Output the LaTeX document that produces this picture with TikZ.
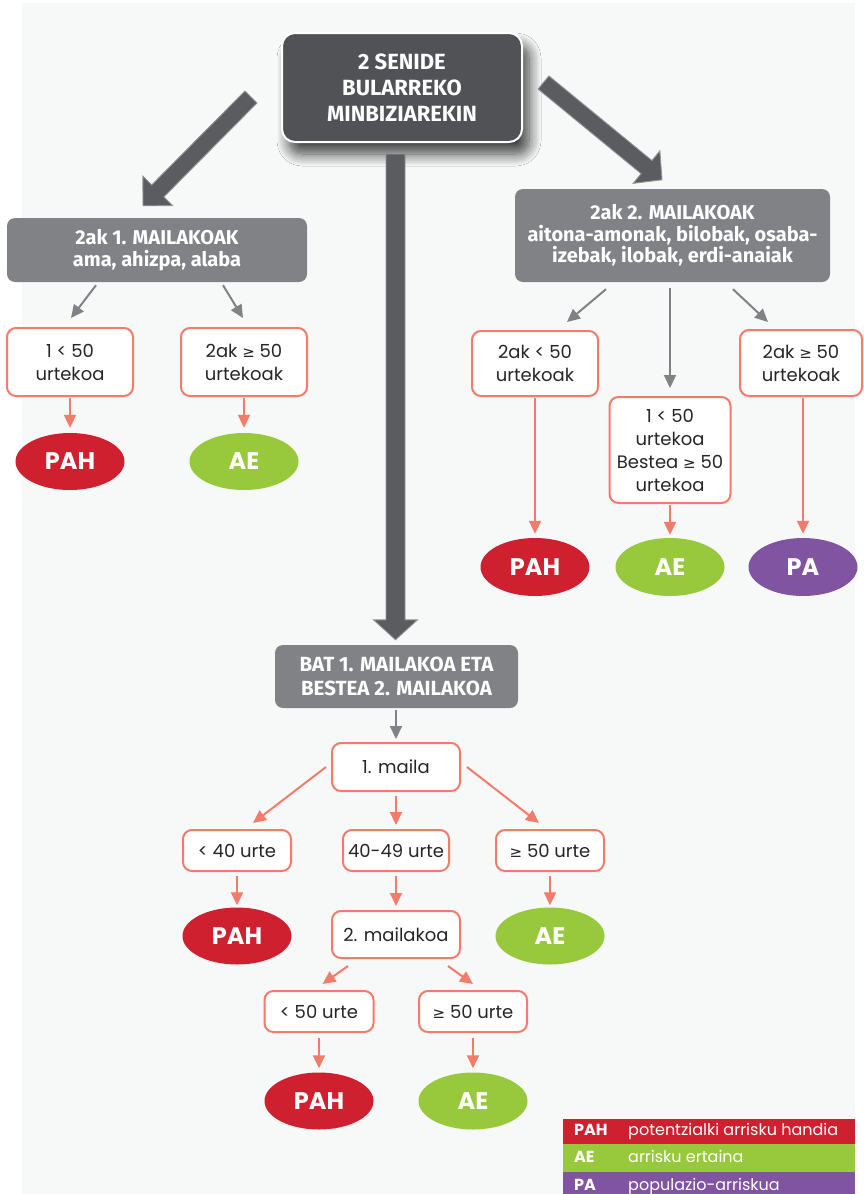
\documentclass[tikz,border=0pt]{standalone}
\usepackage{fontspec}
\setmainfont{Poppins}
\newfontfamily\hdr{Fira Sans}
\newfontfamily\symf{DejaVu Sans}
\usetikzlibrary{shapes.geometric,arrows.meta,calc,shadows.blur}
\definecolor{bgc}{HTML}{F7F8F8}
\definecolor{darkg}{HTML}{505256}
\definecolor{midg}{HTML}{808285}
\definecolor{arrg}{HTML}{5A5C60}
\definecolor{salmon}{HTML}{F37B69}
\definecolor{rred}{HTML}{CF202F}
\definecolor{rgreen}{HTML}{98C93C}
\definecolor{rpurple}{HTML}{8154A1}
\newcommand\geqs{{\symf\fontsize{15}{23}\selectfont ≥}}
\newcommand\bigarrow[5]{%
  \path (#1); \pgfgetlastxy{\bax}{\bay}%
  \path (#2); \pgfgetlastxy{\bbx}{\bby}%
  \pgfmathsetmacro\bang{atan2(\bby-\bay,\bbx-\bax)}%
  \pgfmathsetmacro\blen{veclen(\bbx-\bax,\bby-\bay)}%
  \pgfmathsetmacro\bneck{\blen-#5}%
  \filldraw[fill=arrg, draw=arrg!65!white, line width=0.9pt, shift={(#1)}, rotate=\bang]
    (0pt,#3pt) -- (\bneck pt,#3pt) -- (\bneck pt,#4pt) -- (\blen pt,0pt)
    -- (\bneck pt,-#4pt) -- (\bneck pt,-#3pt) -- (0pt,-#3pt) -- cycle;
}
\begin{document}
\begin{tikzpicture}[x=1pt,y=-1pt,
  topbox/.style={rounded corners=13pt, fill=darkg, draw=white, line width=2pt,
    text=white, align=center, inner sep=0pt, minimum width=240pt, minimum height=109pt,
    font=\hdr\bfseries\fontsize{22}{26}\selectfont,
    blur shadow={shadow xshift=7pt, shadow yshift=-12pt, shadow blur radius=12pt, shadow blur steps=12, shadow opacity=75}},
  hdrbox/.style={rounded corners=8pt, fill=midg, text=white, align=center, inner sep=0pt,
    font=\hdr\bfseries\fontsize{20}{21.5}\selectfont},
  cond/.style={rounded corners=9pt, draw=salmon, fill=white, line width=2pt, align=center,
    inner sep=0pt, text=black!85, font=\fontsize{18}{23}\selectfont},
  oval/.style={ellipse, inner sep=0pt, minimum width=109pt, minimum height=57pt, text=white,
    font=\bfseries\fontsize{24}{24}\selectfont},
  garrow/.style={draw=midg, line width=2pt, -{Triangle[width=12pt,length=13pt]}},
  sarrow/.style={draw=salmon, line width=2pt, -{Triangle[width=12pt,length=13pt]}},
  legrow/.style={inner sep=0pt, minimum width=292pt},
  legab/.style={anchor=west, inner sep=0pt, text=white, text height=11pt, text depth=3pt,
    font=\bfseries\fontsize{16}{16}\selectfont},
  legtx/.style={anchor=west, inner sep=0pt, text=white, text height=11pt, text depth=3pt,
    font=\fontsize{16}{16}\selectfont}
]
\useasboundingbox (0,0) rectangle (863,1194);
\fill[white] (0,0) rectangle (863,1194);
\fill[bgc] (22,3) rectangle (855,1194);

% top box
\node[topbox] (top) at (402,87.5) {2 SENIDE\\BULARREKO\\MINBIZIAREKIN};

% headers
\node[hdrbox, minimum width=300pt, minimum height=64pt] (h1) at (157,250) {2ak 1. MAILAKOAK\\ama, ahizpa, alaba};
\node[hdrbox, minimum width=315pt, minimum height=93pt] (h2) at (672.5,235.5) {2ak 2. MAILAKOAK\\aitona-amonak, bilobak, osaba-\\izebak, ilobak, erdi-anaiak};
\node[hdrbox, minimum width=243pt, minimum height=63pt, font=\hdr\bfseries\fontsize{20.5}{24}\selectfont] (h3) at (396.5,676.5) {BAT 1. MAILAKOA ETA\\BESTEA 2. MAILAKOA};

% big arrows
\coordinate (a1s) at ($(top.west)+(-30,9.5)$);
\coordinate (a1e) at ($(h1.north)+(-14,-12)$);
\coordinate (a2s) at ($(top.east)+(20.5,-5)$);
\coordinate (a2e) at ($(h2.north)+(-10.5,-9)$);
\coordinate (a3s) at ($(top.south)+(-6.5,11)$);
\coordinate (a3e) at ($(h3.north)+(-1,-5)$);
\bigarrow{a1s}{a1e}{8.5}{21}{21}
\bigarrow{a2s}{a2e}{8.5}{21}{20}
\bigarrow{a3s}{a3e}{9.5}{22}{20}

% left branch
\node[cond, minimum width=126pt, minimum height=68pt] (c1) at (70,362) {1 < 50\\urtekoa};
\node[cond, minimum width=126pt, minimum height=68pt] (c2) at (244,362) {2ak \geqs{} 50\\urtekoak};
\node[oval, fill=rred] (o1) at (70,461.5) {PAH};
\node[oval, fill=rgreen] (o2) at (244,461.5) {AE};
\draw[garrow] ($(h1.south)+(-61,3)$) -- ($(c1.north)+(1,-9)$);
\draw[garrow] ($(h1.south)+(66,3)$) -- ($(c2.north)+(-1,-9)$);
\draw[sarrow, shorten <=1pt, shorten >=5pt] (c1.south) -- (c1.south |- o1.north);
\draw[sarrow, shorten <=1pt, shorten >=5pt] (c2.south) -- (c2.south |- o2.north);

% right branch
\node[cond, minimum width=126pt, minimum height=65pt] (c3) at (535,363.5) {2ak < 50\\urtekoak};
\node[cond, minimum width=121pt, minimum height=106pt] (c4) at (670,450) {1 < 50\\urtekoa\\Bestea \geqs{} 50\\urtekoa};
\node[cond, minimum width=122pt, minimum height=66pt] (c5) at (801,363) {2ak \geqs{} 50\\urtekoak};
\node[oval, fill=rred, minimum height=58pt] (o3) at (535,567) {PAH};
\node[oval, fill=rgreen, minimum height=58pt] (o4) at (670,567) {AE};
\node[oval, fill=rpurple, minimum height=58pt] (o5) at (803,567) {PA};
\draw[garrow] ($(h2.south)+(-66.5,7)$) -- ($(c3.north)+(32,-8)$);
\draw[garrow] ($(h2.south)+(-2.5,6)$) -- ($(c4.north)+(0,-8)$);
\draw[garrow] ($(h2.south)+(60.5,7)$) -- ($(c5.north)+(-33,-7)$);
\draw[sarrow, shorten <=1pt, shorten >=4pt] (c3.south -| o3.north) -- (o3.north);
\draw[sarrow, shorten <=1pt, shorten >=3pt] (c4.south) -- (c4.south |- o4.north);
\draw[sarrow, shorten <=1pt, shorten >=4pt] (c5.south -| o5.north) -- (o5.north);

% bottom branch
\node[cond, minimum width=128pt, minimum height=48pt] (m1) at (396,767) {1. maila};
\node[cond, minimum width=108pt, minimum height=41pt] (d1) at (237,850.5) {< 40 urte};
\node[cond, minimum width=106pt, minimum height=41pt] (d2) at (396,850.5) {40-49 urte};
\node[cond, minimum width=108pt, minimum height=41pt] (d3) at (550,850.5) {\geqs{} 50 urte};
\node[oval, fill=rred] (o6) at (237,936) {PAH};
\node[cond, minimum width=128pt, minimum height=47pt] (m2) at (396,934.5) {2. mailakoa};
\node[oval, fill=rgreen] (o7) at (550,936) {AE};
\node[cond, minimum width=109pt, minimum height=41pt] (e1) at (319,1011.5) {< 50 urte};
\node[cond, minimum width=108pt, minimum height=41pt] (e2) at (473,1011.5) {\geqs{} 50 urte};
\node[oval, fill=rred] (o8) at (319,1101) {PAH};
\node[oval, fill=rgreen] (o9) at (473,1101) {AE};

\draw[garrow] ($(h3.south)+(-0.5,2)$) -- ($(m1.north)+(0,-3)$);
\draw[sarrow] ($(m1.west)+(-5,0)$) -- ($(d1.north)+(16,-6)$);
\draw[sarrow] ($(m1.south)+(0,4)$) -- ($(d2.north)+(0,-4)$);
\draw[sarrow] ($(m1.east)+(6,0)$) -- ($(d3.north)+(-11,-6)$);
\draw[sarrow] ($(d1.south)+(0,4)$) -- ($(o6.north)+(0,-2)$);
\draw[sarrow] ($(d2.south)+(0,4)$) -- ($(m2.north)+(0,-4)$);
\draw[sarrow] ($(d3.south)+(0,4)$) -- ($(o7.north)+(0,-2)$);
\draw[sarrow] ($(m2.south)+(-48,7)$) -- ($(e1.north)+(3.5,-6)$);
\draw[sarrow] ($(m2.south)+(52,7)$) -- ($(e2.north)+(0,-6)$);
\draw[sarrow] ($(e1.south)+(0,5)$) -- ($(o8.north)+(0,-4)$);
\draw[sarrow] ($(e2.south)+(0,5)$) -- ($(o9.north)+(0,-4)$);

% legend
\node[legrow, fill=rred, minimum height=25pt] (l1) at (709,1131.5) {};
\node[legrow, fill=rgreen, minimum height=28pt] (l2) at (709,1158) {};
\node[legrow, fill=rpurple, minimum height=28pt] (l3) at (709,1186) {};
\node[legab] (l1a) at (574,1131.5) {PAH};
\node[legtx] (l1t) at (628,1131.5) {potentzialki arrisku handia};
\node[legab] (l2a) at (574,1158) {AE};
\node[legtx] (l2t) at (628,1158) {arrisku ertaina};
\node[legab] (l3a) at (574,1186) {PA};
\node[legtx] (l3t) at (628,1186) {populazio-arriskua};
\end{tikzpicture}
\end{document}
